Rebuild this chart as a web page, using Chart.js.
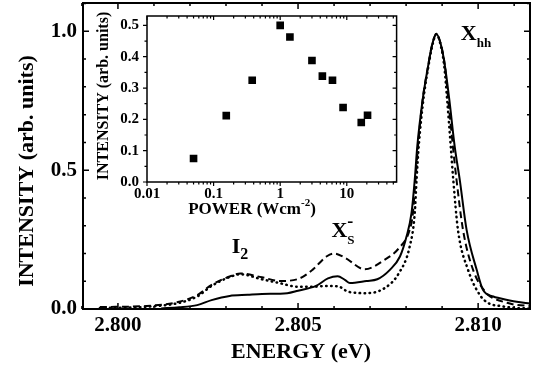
<!DOCTYPE html>
<html>
<head>
<meta charset="utf-8">
<script src="https://cdn.jsdelivr.net/npm/chart.js@4.4.0/dist/chart.umd.min.js"></script>
<style>
  html, body { margin: 0; padding: 0; background: #fff; }
  #wrap { position: relative; width: 533px; height: 368px; }
  #grafikSpektrum { position: absolute; left: 0; top: 0; }
  #grafikDaya { position: absolute; left: 90px; top: 6px; }
</style>
</head>
<body>
<div id="wrap">
  <canvas id="grafikSpektrum" width="533" height="368"></canvas>
  <canvas id="grafikDaya" width="312" height="222"></canvas>
</div>
<script>
// PL spectra (three excitation conditions)
const solidEnergy = [2.8012, 2.8017, 2.8022, 2.8026, 2.8031, 2.8036, 2.8040, 2.8047, 2.8050, 2.8055,
  2.80583, 2.8061, 2.8063, 2.80644, 2.8069, 2.8072, 2.80755, 2.80783, 2.80801, 2.80815,
  2.80824, 2.80831, 2.80846, 2.80861, 2.80872, 2.80884, 2.80897, 2.80908, 2.80920, 2.80935,
  2.80949, 2.80968, 2.80996, 2.81013, 2.81042, 2.81060, 2.81107, 2.81144];
const solidIntensity = [0.002, 0.006, 0.014, 0.032, 0.047, 0.051, 0.054, 0.057, 0.066, 0.083,
  0.11, 0.118, 0.105, 0.094, 0.101, 0.107, 0.141, 0.189, 0.26, 0.345,
  0.465, 0.585, 0.754, 0.874, 0.95, 0.99, 0.95, 0.874, 0.754, 0.585,
  0.465, 0.285, 0.141, 0.07, 0.045, 0.039, 0.026, 0.02];

const dashedEnergy = [2.7995, 2.8008, 2.8017, 2.8022, 2.8026, 2.8031, 2.8034, 2.8040, 2.8045, 2.8050,
  2.8054, 2.8058, 2.8060, 2.8063, 2.80685, 2.8074, 2.8078, 2.8081, 2.80819, 2.80826,
  2.80833, 2.80846, 2.80861, 2.80872, 2.80884, 2.80897, 2.80908, 2.80917, 2.80930, 2.80940,
  2.80958, 2.80986, 2.81023, 2.81042, 2.81079, 2.8110, 2.81144];
const dashedIntensity = [0.007, 0.011, 0.026, 0.05, 0.087, 0.117, 0.128, 0.114, 0.101, 0.108,
  0.141, 0.19, 0.2, 0.185, 0.143, 0.177, 0.219, 0.285, 0.345, 0.465,
  0.585, 0.754, 0.874, 0.95, 0.99, 0.95, 0.874, 0.754, 0.585, 0.465,
  0.285, 0.141, 0.057, 0.039, 0.023, 0.016, 0.011];

const dottedEnergy = [2.7995, 2.8008, 2.8017, 2.8022, 2.8026, 2.8031, 2.8034, 2.8040, 2.8045, 2.8050,
  2.8054, 2.8058, 2.8061, 2.8064, 2.8069, 2.8074, 2.8078, 2.8081, 2.80824, 2.80829,
  2.80835, 2.80848, 2.80862, 2.80873, 2.80884, 2.80896, 2.80906, 2.80914, 2.80924, 2.80931,
  2.80944, 2.80972, 2.81005, 2.81030, 2.81060, 2.8110, 2.81144];
const dottedIntensity = [0.004, 0.008, 0.022, 0.045, 0.083, 0.115, 0.125, 0.107, 0.093, 0.08,
  0.08, 0.083, 0.082, 0.062, 0.057, 0.075, 0.129, 0.225, 0.345, 0.465,
  0.585, 0.754, 0.874, 0.95, 0.99, 0.95, 0.874, 0.754, 0.585, 0.465,
  0.285, 0.141, 0.05, 0.02, 0.011, 0.004, 0.002];

// inset: integrated intensity vs excitation power
const powerDensity = [0.05, 0.155, 0.38, 1.0, 1.4, 3.0, 4.3, 6.1, 8.8, 16.5, 20.5];
const powerIntensity = [0.075, 0.212, 0.325, 0.5, 0.463, 0.388, 0.338, 0.325, 0.238, 0.19, 0.213];

// labelled ticks
const energyTicks = [2.800, 2.805, 2.810];
const intensityTicks = [0.0, 0.5, 1.0];
const powerTicks = [0.01, 0.1, 1, 10];
const insetIntensityTicks = [0.0, 0.1, 0.2, 0.3, 0.4, 0.5];

const FONT = '"Liberation Serif", "Times New Roman", serif';

function toPoints(xs, ys) {
  return xs.map((x, i) => ({ x: x, y: ys[i] }));
}

function sameVal(a, b) {
  return Math.abs(a - b) < 1e-9;
}

// draws a text with sub/superscript pieces; parts = [{t, size, dy}]
function drawParts(ctx, parts, x, y, align) {
  let total = 0;
  parts.forEach(p => {
    ctx.font = 'bold ' + p.size + 'px ' + FONT;
    p.w = ctx.measureText(p.t).width;
    if (!p.stack) total += p.w;
  });
  let cx = align === 'center' ? x - total / 2 : x;
  let lastX = cx;
  ctx.textAlign = 'left';
  ctx.textBaseline = 'middle';
  parts.forEach(p => {
    ctx.font = 'bold ' + p.size + 'px ' + FONT;
    if (p.stack) {
      ctx.fillText(p.t, lastX, y + (p.dy || 0));
    } else {
      lastX = cx;
      ctx.fillText(p.t, cx, y + (p.dy || 0));
      cx += p.w;
    }
  });
}

// frame on all four sides plus ticks mirrored on top and right
const frameTicks = {
  id: 'frameTicks',
  afterDatasetsDraw(chart, args, opts) {
    const { ctx, chartArea: a } = chart;
    const sx = chart.scales.x, sy = chart.scales.y;
    const out = opts.outside ? 1 : -1;
    ctx.save();
    ctx.strokeStyle = '#000';
    ctx.lineWidth = opts.tickWidth;
    ctx.beginPath();
    sx.ticks.forEach(t => {
      const px = sx.getPixelForValue(t.value);
      const len = t.label !== '' ? opts.major : opts.minor;
      ctx.moveTo(px, a.bottom); ctx.lineTo(px, a.bottom + out * len);
      ctx.moveTo(px, a.top); ctx.lineTo(px, a.top + len);
    });
    sy.ticks.forEach(t => {
      const py = sy.getPixelForValue(t.value);
      const len = t.label !== '' ? opts.major : opts.minor;
      ctx.moveTo(a.left, py); ctx.lineTo(a.left - out * len, py);
      ctx.moveTo(a.right, py); ctx.lineTo(a.right - len, py);
    });
    ctx.stroke();
    ctx.lineWidth = opts.frameWidth;
    ctx.strokeRect(a.left, a.top, a.right - a.left, a.bottom - a.top);
    ctx.restore();
  }
};

// axis titles and peak labels
const textLayer = {
  id: 'textLayer',
  afterDraw(chart, args, opts) {
    const ctx = chart.ctx;
    ctx.save();
    ctx.fillStyle = '#000';
    (opts.items || []).forEach(it => {
      let x = it.x, y = it.y;
      if (it.data) {
        x = chart.scales.x.getPixelForValue(it.data[0]);
        y = chart.scales.y.getPixelForValue(it.data[1]);
      }
      ctx.save();
      ctx.translate(x, y);
      if (it.rotate) ctx.rotate(it.rotate);
      drawParts(ctx, it.parts, 0, 0, it.align || 'center');
      ctx.restore();
    });
    ctx.restore();
  }
};

function lineSet(xs, ys, width, dash) {
  return {
    data: toPoints(xs, ys),
    borderColor: '#000',
    borderWidth: width,
    borderDash: dash,
    borderCapStyle: dash.length && dash[0] < 3 ? 'round' : 'butt',
    pointRadius: 0,
    fill: false,
    cubicInterpolationMode: 'monotone'
  };
}

const ctxSpektrum = document.getElementById('grafikSpektrum').getContext('2d');
window.chartSpektrum = new Chart(ctxSpektrum, {
  type: 'line',
  data: {
    datasets: [
      lineSet(solidEnergy, solidIntensity, 2, []),
      lineSet(dashedEnergy, dashedIntensity, 2, [7, 4]),
      lineSet(dottedEnergy, dottedIntensity, 2.5, [0.5, 4.5])
    ]
  },
  options: {
    responsive: false,
    animation: false,
    devicePixelRatio: 1,
    layout: { padding: { top: 3, right: 3, left: 0, bottom: 0 } },
    plugins: {
      legend: { display: false },
      tooltip: { enabled: false },
      frameTicks: { outside: false, major: 6, minor: 3, tickWidth: 1.5, frameWidth: 2 },
      textLayer: {
        items: [
          { x: 27, y: 171, rotate: -Math.PI / 2, parts: [{ t: 'INTENSITY (arb. units)', size: 22 }] },
          { x: 301, y: 352, parts: [{ t: 'ENERGY (eV)', size: 22 }] },
          { data: [2.80339, 0.222], parts: [{ t: 'I', size: 22 }, { t: '2', size: 16, dy: 8 }] },
          { data: [2.80623, 0.279], parts: [{ t: 'X', size: 22 }, { t: '-', size: 18, dy: -9 }, { t: 'S', size: 13, dy: 9, stack: true }] },
          { data: [2.80994, 0.988], parts: [{ t: 'X', size: 22 }, { t: 'hh', size: 13, dy: 9 }] }
        ]
      }
    },
    scales: {
      x: {
        type: 'linear',
        min: 2.79903,
        max: 2.81144,
        grid: { display: false, drawTicks: false },
        border: { display: false },
        afterBuildTicks(s) {
          const t = [];
          for (let i = 0; i <= 12; i++) t.push({ value: Math.round((2.799 + i * 0.001) * 1000) / 1000 });
          s.ticks = t;
        },
        afterFit(s) { s.height = 59; s.paddingLeft = 0; s.paddingRight = 0; },
        ticks: {
          autoSkip: false,
          maxRotation: 0,
          padding: 4,
          color: '#000',
          font: { family: FONT, size: 21, weight: 'bold' },
          callback: v => energyTicks.some(e => sameVal(e, v)) ? v.toFixed(3) : ''
        }
      },
      y: {
        type: 'linear',
        min: 0,
        max: 1.102,
        grid: { display: false, drawTicks: false },
        border: { display: false },
        afterBuildTicks(s) {
          const t = [];
          for (let i = 0; i <= 11; i++) t.push({ value: Math.round(i) / 10 });
          s.ticks = t;
        },
        afterFit(s) { s.width = 83; s.paddingTop = 0; s.paddingBottom = 0; },
        ticks: {
          autoSkip: false,
          padding: 6,
          color: '#000',
          font: { family: FONT, size: 21, weight: 'bold' },
          callback: v => intensityTicks.some(e => sameVal(e, v)) ? v.toFixed(1) : ''
        }
      }
    }
  },
  plugins: [frameTicks, textLayer]
});

const ctxDaya = document.getElementById('grafikDaya').getContext('2d');
window.chartDaya = new Chart(ctxDaya, {
  type: 'scatter',
  data: {
    datasets: [{
      data: toPoints(powerDensity, powerIntensity),
      backgroundColor: '#000',
      borderColor: '#000',
      borderWidth: 0,
      pointStyle: 'rect',
      pointRadius: 5.4
    }]
  },
  options: {
    responsive: false,
    animation: false,
    devicePixelRatio: 1,
    layout: { padding: { top: 10, right: 5, left: 0, bottom: 0 } },
    plugins: {
      legend: { display: false },
      tooltip: { enabled: false },
      frameTicks: { outside: true, major: 4, minor: 2.5, tickWidth: 1.2, frameWidth: 1.5 },
      textLayer: {
        items: [
          { x: 14, y: 90, rotate: -Math.PI / 2, parts: [{ t: 'INTENSITY (arb. units)', size: 16 }] },
          { x: 162, y: 204, parts: [{ t: 'POWER (Wcm', size: 17 }, { t: '-2', size: 11, dy: -7 }, { t: ')', size: 17 }] }
        ]
      }
    },
    scales: {
      x: {
        type: 'logarithmic',
        min: 0.01,
        max: 56,
        grid: { display: false, drawTicks: false },
        border: { display: false },
        afterBuildTicks(s) {
          const t = [];
          for (let k = -2; k <= 1; k++) {
            for (let d = 1; d <= 9; d++) {
              const v = d * Math.pow(10, k);
              if (v <= 56) t.push({ value: v });
            }
          }
          s.ticks = t;
        },
        afterFit(s) { s.height = 46; s.paddingLeft = 0; s.paddingRight = 0; },
        ticks: {
          autoSkip: false,
          maxRotation: 0,
          padding: 3,
          color: '#000',
          font: { family: FONT, size: 15, weight: 'bold' },
          callback: v => {
            const hit = powerTicks.find(p => Math.abs(p - v) / p < 1e-6);
            return hit !== undefined ? String(hit) : '';
          }
        }
      },
      y: {
        type: 'linear',
        min: 0,
        max: 0.53,
        grid: { display: false, drawTicks: false },
        border: { display: false },
        afterBuildTicks(s) {
          const t = [];
          for (let i = 0; i <= 10; i++) t.push({ value: Math.round(i * 5) / 100 });
          s.ticks = t;
        },
        afterFit(s) { s.width = 57; s.paddingTop = 0; s.paddingBottom = 0; },
        ticks: {
          autoSkip: false,
          padding: 8,
          color: '#000',
          font: { family: FONT, size: 15, weight: 'bold' },
          callback: v => insetIntensityTicks.some(e => sameVal(e, v)) ? v.toFixed(1) : ''
        }
      }
    }
  },
  plugins: [frameTicks, textLayer]
});
</script>
</body>
</html>
